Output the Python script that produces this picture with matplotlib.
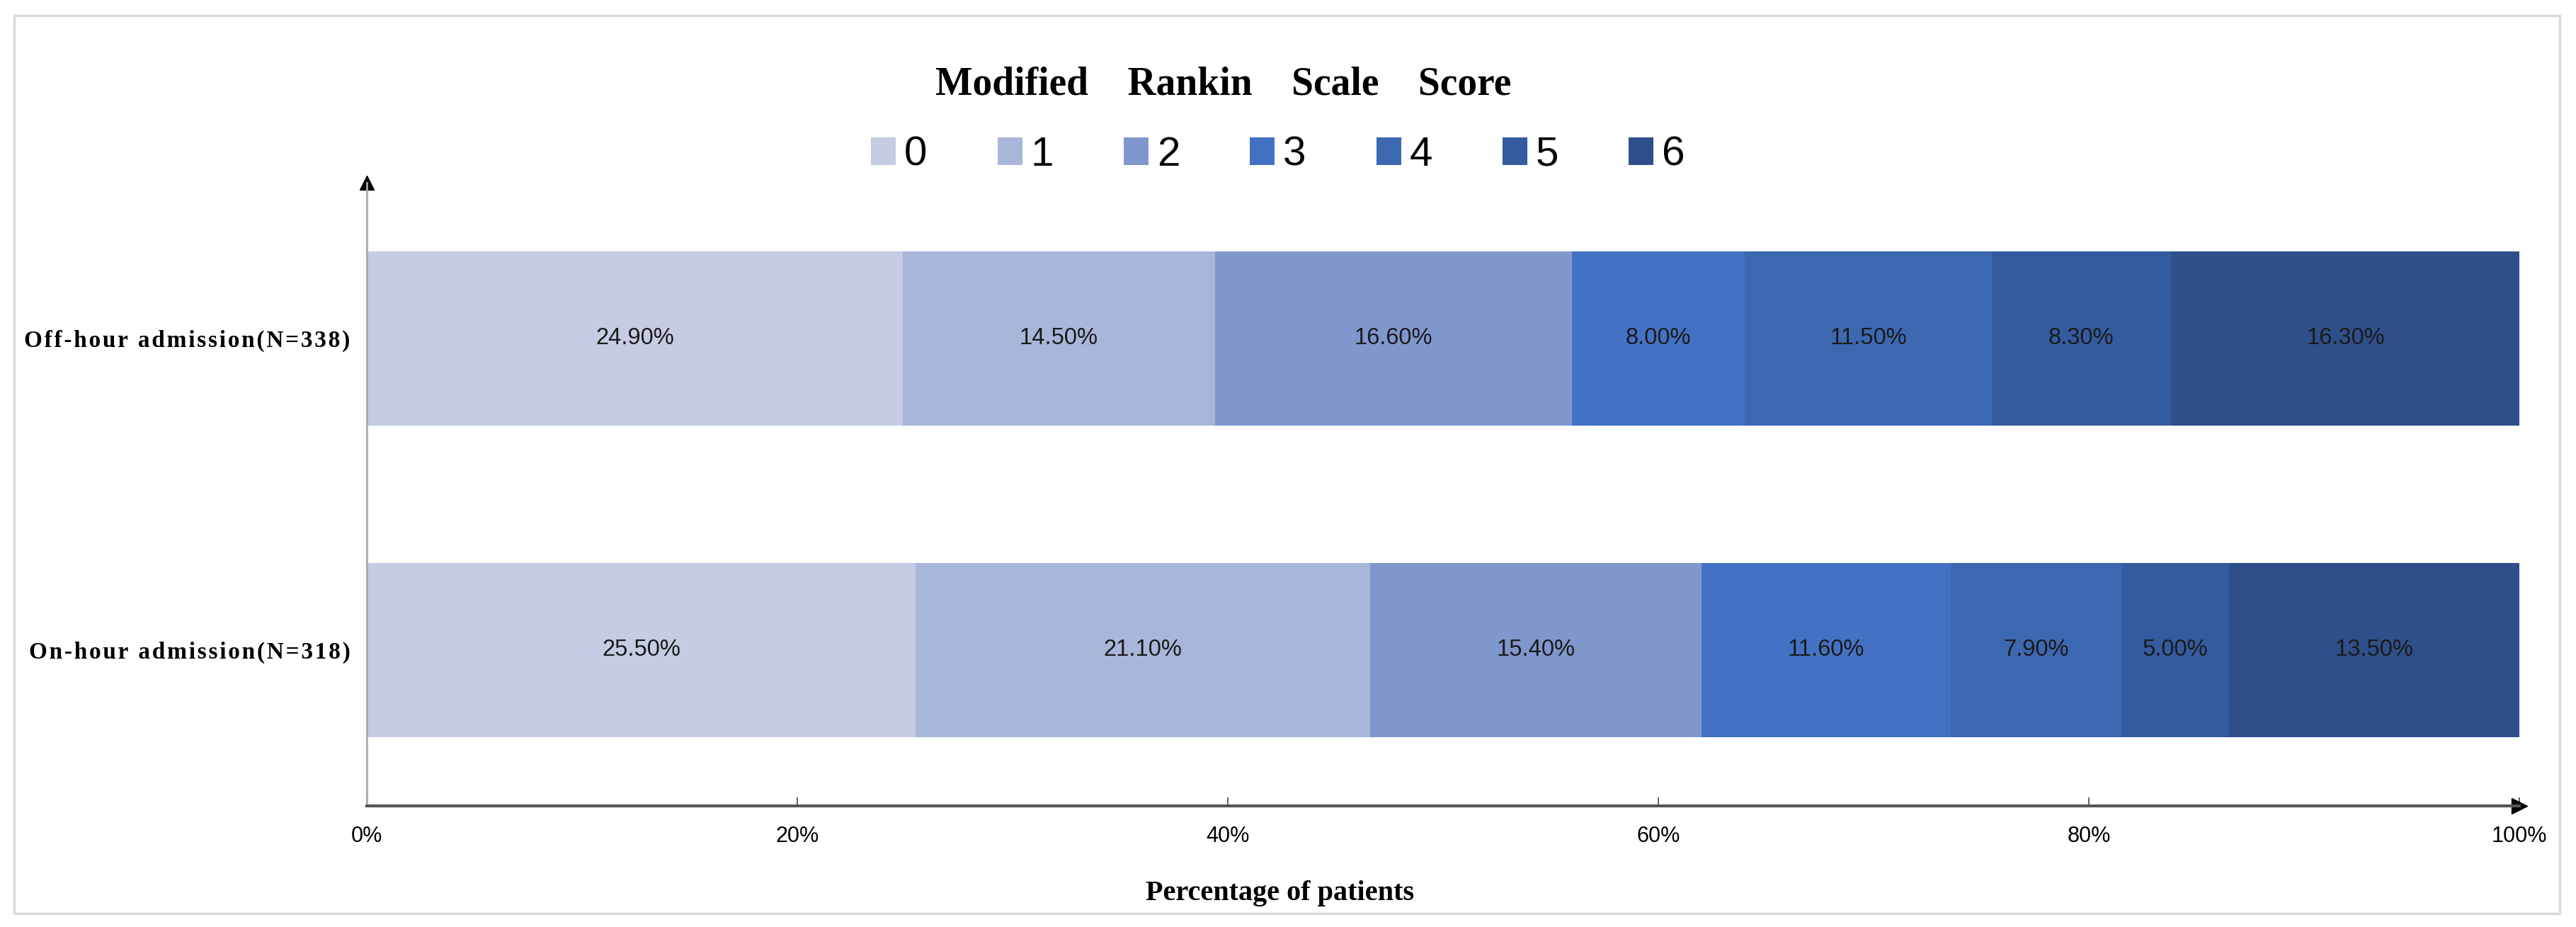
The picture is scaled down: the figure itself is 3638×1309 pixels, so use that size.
import matplotlib.pyplot as plt
from matplotlib.patches import Rectangle, Patch

# data
groups = ["On-hour admission(N=318)", "Off-hour admission(N=338)"]
scores = ["0", "1", "2", "3", "4", "5", "6"]
on_hour = [25.5, 21.1, 15.4, 11.6, 7.9, 5.0, 13.5]
off_hour = [24.9, 14.5, 16.6, 8.0, 11.5, 8.3, 16.3]
xticks = [0, 20, 40, 60, 80, 100]
xtick_labels = ["0%", "20%", "40%", "60%", "80%", "100%"]

colors = ["#C5CCE4", "#A8B6D9", "#8097CD", "#4372C4", "#3C68B2", "#345BA0", "#2F4F8A"]

W, H = 3638, 1309
fig = plt.figure(figsize=(W / 100, H / 100), dpi=100)
fig.patch.set_facecolor("white")

# light gray frame round everything
fig.patches.append(Rectangle((20 / W, 1 - 1290 / H), 3595 / W, 1268 / H,
                             transform=fig.transFigure, fill=False,
                             edgecolor="#d9d9d9", linewidth=2.5))

ax = fig.add_axes([518 / W, 1 - 1138 / H, 3040 / W, 880 / H])

rows = [on_hour, off_hour]
for yi, vals in enumerate(rows):
    left = 0
    for k, v in enumerate(vals):
        ax.barh(yi, v, left=left, height=0.56, color=colors[k], edgecolor="none")
        ax.text(left + v / 2, yi, "%.2f%%" % v, ha="center", va="center",
                fontsize=23.5, family="Liberation Sans", color="#1a1a1a")
        left += v

ax.set_xlim(0, 100)
ax.set_ylim(-0.5, 1.5)

# letter-spaced group labels (hair space between letters)
spaced = ["\u200a".join(g) for g in groups]
ax.set_yticks([0, 1])
ax.set_yticklabels(spaced, family="Liberation Serif", fontweight="bold", fontsize=24)
ax.tick_params(axis="y", length=0, pad=17)

ax.set_xticks(xticks)
ax.set_xticklabels(xtick_labels, family="Liberation Sans", fontsize=22)
ax.tick_params(axis="x", direction="in", length=9, width=1.2, color="#444444", pad=20)

for s in ["top", "right"]:
    ax.spines[s].set_visible(False)
ax.spines["left"].set_color("#aaaaaa")
ax.spines["left"].set_linewidth(2)
ax.spines["bottom"].set_color("#555555")
ax.spines["bottom"].set_linewidth(3)

# arrow heads
ax.plot(1, 0, marker=">", color="black", markersize=16, transform=ax.transAxes, clip_on=False)
ax.plot(0, 1, marker="^", color="black", markersize=14, transform=ax.transAxes, clip_on=False)

fig.text(1728 / W, 1 - 120 / H, "Modified    Rankin    Scale    Score", ha="center", va="center",
         family="Liberation Serif", fontweight="bold", fontsize=40)

handles = [Patch(facecolor=c, edgecolor="none") for c in colors]
fig.legend(handles, scores, loc="center", bbox_to_anchor=(1805 / W, 1 - 219 / H),
           ncol=7, frameon=False, prop={"family": "Liberation Sans", "size": 42},
           handlelength=0.6, handleheight=0.64, handletextpad=0.2, columnspacing=1.7)

fig.text(1808 / W, 1 - 1262 / H, "Percentage of patients", ha="center", va="center",
         family="Liberation Serif", fontweight="bold", fontsize=29)

fig.savefig("out.png", dpi=100)
